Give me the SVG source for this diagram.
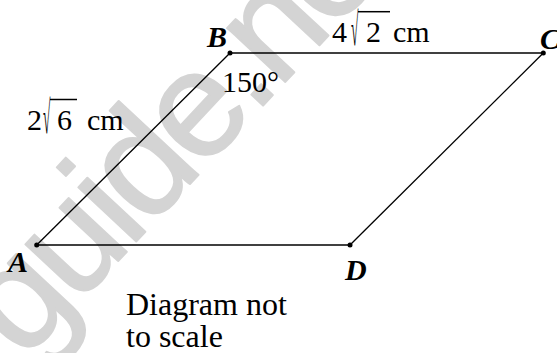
<svg xmlns="http://www.w3.org/2000/svg" width="557" height="353" viewBox="0 0 557 353">
<style>
.lbl{font-family:"Liberation Serif","Times New Roman",serif;font-size:30px;fill:#000}
.pt{font-family:"Liberation Serif","Times New Roman",serif;font-size:30px;font-weight:bold;font-style:italic;fill:#000}
.note{font-size:32px}
.edge{stroke:#000;stroke-width:1.3;fill:none}
.dot{fill:#000}
.vinc{stroke:#000;stroke-width:1.5}
.wm{font-family:"Liberation Sans",Arial,sans-serif;font-size:150px;letter-spacing:-6px;fill:#d4d4d4;stroke:#d4d4d4;stroke-width:2;stroke-linejoin:round}
</style>
<text id="watermark" class="wm" transform="translate(24,362) rotate(-47)">guide.net</text>
<g id="connectors">
<line class="edge" x1="36.7" y1="245" x2="230" y2="53"/>
<line class="edge" x1="230" y1="53" x2="543.3" y2="53"/>
<line class="edge" x1="543.3" y1="53" x2="350" y2="245"/>
<line class="edge" x1="350" y1="245" x2="36.7" y2="245"/>
</g>
<g id="A"><circle class="dot" cx="36.7" cy="245" r="2.5"/><text class="pt" x="8" y="271.5">A</text></g>
<g id="B"><circle class="dot" cx="230" cy="53" r="2.5"/><text class="pt" x="207" y="46.5">B</text></g>
<g id="C"><circle class="dot" cx="543.3" cy="53" r="2.5"/><text class="pt" x="540" y="49">C</text></g>
<g id="D"><circle class="dot" cx="350" cy="245" r="2.5"/><text class="pt" x="345" y="280">D</text></g>
<g id="label-AB">
<text class="lbl" x="27" y="130">2</text>
<text class="lbl" transform="translate(43,133) scale(0.45,1.55)">√</text>
<line class="vinc" x1="50" y1="99.5" x2="77" y2="99.5"/>
<text class="lbl" x="57" y="130">6</text>
<text class="lbl" x="87" y="130">cm</text>
</g>
<g id="label-BC">
<text class="lbl" x="332" y="42">4</text>
<text class="lbl" transform="translate(351,45) scale(0.45,1.55)">√</text>
<line class="vinc" x1="358" y1="11.7" x2="390" y2="11.7"/>
<text class="lbl" x="366" y="42">2</text>
<text class="lbl" x="393" y="42">cm</text>
</g>
<g id="angle-B"><text class="lbl" x="222" y="91.5">150°</text></g>
<g id="note">
<text class="lbl note" x="126" y="315">Diagram not</text>
<text class="lbl note" x="126" y="346.5">to scale</text>
</g>
</svg>
